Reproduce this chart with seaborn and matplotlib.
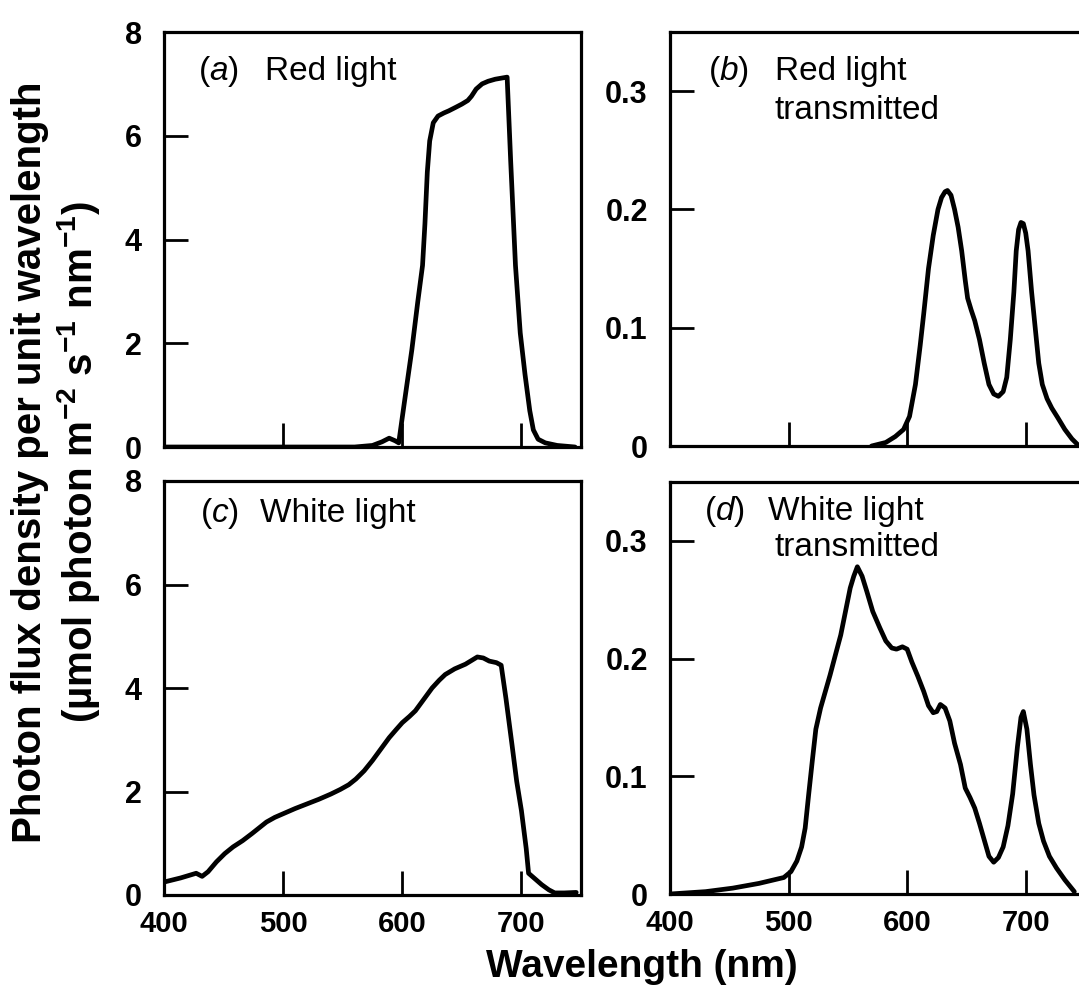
import matplotlib
matplotlib.use("Agg")
import matplotlib.pyplot as plt
import seaborn as sns
import pandas as pd

# ---------------- data ----------------
a_nm = [400, 560, 575, 583, 589, 594, 597, 602, 608, 613, 617, 619, 621, 623, 626, 630, 635, 639,
        645, 650, 655, 658, 662, 667, 672, 678, 683, 688, 691, 695, 699, 703, 707, 710, 714, 720, 730, 745]
a_val = [0, 0, 0.03, 0.1, 0.17, 0.12, 0.08, 0.9, 1.87, 2.8, 3.5, 4.3, 5.3, 5.9, 6.25, 6.38, 6.44, 6.48,
         6.55, 6.61, 6.68, 6.76, 6.9, 7.0, 7.05, 7.09, 7.11, 7.13, 5.5, 3.5, 2.2, 1.4, 0.7, 0.33, 0.15, 0.08, 0.03, 0.0]

b_nm = [570, 582, 590, 597, 602, 607, 611, 614, 618, 622, 626, 629, 632, 634, 637, 640, 643, 646, 649,
        651, 654, 657, 661, 665, 669, 673, 677, 681, 684, 687, 690, 692, 694, 696, 698, 700, 702, 705,
        708, 711, 714, 718, 722, 727, 733, 739, 745]
b_val = [0.0, 0.003, 0.008, 0.014, 0.025, 0.052, 0.085, 0.112, 0.15, 0.178, 0.2, 0.21, 0.215, 0.216,
         0.212, 0.2, 0.185, 0.165, 0.14, 0.125, 0.115, 0.106, 0.09, 0.07, 0.052, 0.044, 0.042, 0.046,
         0.058, 0.09, 0.13, 0.165, 0.183, 0.189, 0.188, 0.18, 0.165, 0.13, 0.1, 0.07, 0.052, 0.04,
         0.032, 0.024, 0.014, 0.006, 0.0]

c_nm = [400, 414, 427, 432, 437, 444, 451, 458, 466, 474, 480, 486, 493, 500, 510, 520, 530, 540,
        548, 555, 561, 568, 575, 582, 589, 595, 600, 606, 611, 618, 625, 631, 636, 644, 653, 658,
        663, 668, 673, 679, 683, 687, 692, 696, 700, 704, 706, 711, 717, 723, 728, 736, 746]
c_val = [0.25, 0.33, 0.42, 0.36, 0.45, 0.64, 0.8, 0.93, 1.05, 1.19, 1.3, 1.41, 1.5, 1.57, 1.67, 1.76,
         1.85, 1.95, 2.04, 2.13, 2.24, 2.4, 2.6, 2.82, 3.04, 3.2, 3.33, 3.45, 3.56, 3.78, 4.0, 4.15,
         4.26, 4.37, 4.46, 4.53, 4.6, 4.58, 4.52, 4.49, 4.44, 3.8, 2.92, 2.2, 1.63, 0.9, 0.42, 0.32,
         0.2, 0.1, 0.04, 0.04, 0.05]

d_nm = [400, 430, 453, 475, 496, 502, 507, 511, 514, 517, 520, 523, 527, 531, 535, 540, 544, 548, 552,
        555, 558, 562, 566, 571, 577, 582, 587, 591, 596, 600, 604, 609, 614, 618, 622, 625, 628, 632,
        636, 640, 645, 649, 653, 657, 661, 665, 669, 673, 677, 681, 685, 689, 693, 696, 698, 701, 704,
        707, 711, 715, 720, 726, 733, 741]
d_val = [0.0, 0.002, 0.005, 0.009, 0.014, 0.019, 0.028, 0.04, 0.056, 0.085, 0.113, 0.14, 0.158, 0.172,
         0.186, 0.205, 0.22, 0.24, 0.26, 0.27, 0.278, 0.27, 0.257, 0.24, 0.226, 0.215, 0.209, 0.208,
         0.21, 0.208, 0.197, 0.185, 0.172, 0.16, 0.154, 0.155, 0.161, 0.158, 0.147, 0.128, 0.11, 0.09,
         0.082, 0.073, 0.06, 0.046, 0.032, 0.027, 0.031, 0.04, 0.058, 0.085, 0.125, 0.15, 0.155, 0.14,
         0.11, 0.084, 0.06, 0.045, 0.032, 0.022, 0.012, 0.002]

xticks = [400, 500, 600, 700]
yticks_left = [0, 2, 4, 6, 8]
yticks_right = [0, 0.1, 0.2, 0.3]
ytick_right_labels = ["0", "0.1", "0.2", "0.3"]

panel_letters = ["a", "b", "c", "d"]
panel_line1 = ["Red light", "Red light", "White light", "White light"]
panel_line2 = ["", "transmitted", "", "transmitted"]

xlabel = "Wavelength (nm)"
ylabel1 = "Photon flux density per unit wavelength"
ylabel2 = r"(µmol photon m$^{-2}$ s$^{-1}$ nm$^{-1}$)"

# ---------------- style ----------------
sns.set_theme(style="ticks")
plt.rcParams["font.family"] = ["Liberation Sans", "DejaVu Sans"]
plt.rcParams["text.color"] = "black"
plt.rcParams["xtick.color"] = "black"
plt.rcParams["ytick.color"] = "black"
plt.rcParams["xtick.labelcolor"] = "black"
plt.rcParams["ytick.labelcolor"] = "black"
plt.rcParams["mathtext.fontset"] = "custom"
plt.rcParams["mathtext.rm"] = "Liberation Sans:bold"
plt.rcParams["mathtext.bf"] = "Liberation Sans:bold"
plt.rcParams["mathtext.it"] = "Liberation Sans:italic"
plt.rcParams["mathtext.default"] = "bf"

W, H = 1079, 992
fig = plt.figure(figsize=(W / 100, H / 100), dpi=100)

def fx(px):
    return px / W

def fy(py):
    return 1 - py / H

# axes rectangles in pixel coords: left, top, right, bottom
rects = [(164, 32, 581, 447), (670, 32, 1085, 446), (164, 481, 581, 895), (670, 482, 1085, 894)]
ylims = [(0, 8), (0, 0.35), (0, 8), (0, 0.35)]
datasets = [(a_nm, a_val), (b_nm, b_val), (c_nm, c_val), (d_nm, d_val)]

axes = []
for i, (l, t, r, b) in enumerate(rects):
    ax = fig.add_axes([fx(l), fy(b), fx(r) - fx(l), fy(t) - fy(b)])
    nm, val = datasets[i]
    df = pd.DataFrame({"nm": nm, "val": val})
    sns.lineplot(data=df, x="nm", y="val", ax=ax, color="black", linewidth=3.4,
                 estimator=None, sort=False, solid_joinstyle="round", solid_capstyle="round")
    ax.set_xlim(400, 750)
    ax.set_ylim(*ylims[i])
    ax.set_xlabel("")
    ax.set_ylabel("")
    for s in ax.spines.values():
        s.set_linewidth(2.3)
        s.set_color("black")
    ax.set_xticks(xticks)
    ax.tick_params(axis="both", direction="in", length=17, width=2.0, color="black")
    ax.tick_params(axis="y", pad=16)
    ax.tick_params(axis="x", pad=11)
    if i in (0, 1):
        ax.set_xticklabels([])
    else:
        ax.set_xticklabels([str(v) for v in xticks], fontsize=21, fontweight="bold", color="black")
    if i in (0, 2):
        ax.set_yticks(yticks_left)
        ax.set_yticklabels([str(v) for v in yticks_left], fontsize=22, fontweight="heavy", color="black")
    else:
        ax.set_yticks(yticks_right)
        ax.set_yticklabels(ytick_right_labels, fontsize=22, fontweight="heavy", color="black")
    ax.set_facecolor("white")
    axes.append(ax)

# panel labels
label_pos = [(198, 265, 80), (708, 775, 80), (200, 260, 522), (704, 768, 520)]
line2_pos = [None, (775, 119), None, (775, 556)]
for i in range(4):
    xl, xt, yb = label_pos[i]
    fig.text(fx(xl), fy(yb), "($\\mathit{" + panel_letters[i] + "}$)", fontsize=24,
             fontweight="normal", color="black", va="baseline", ha="left")
    fig.text(fx(xt), fy(yb), panel_line1[i], fontsize=24, color="black",
             va="baseline", ha="left")
    if line2_pos[i] is not None:
        x2, y2 = line2_pos[i]
        fig.text(fx(x2), fy(y2), panel_line2[i], fontsize=24, color="black",
                 va="baseline", ha="left")

# axis labels
fig.text(fx(642), fy(967), xlabel, fontsize=28, fontweight="bold",
         ha="center", va="center", color="black")
fig.text(fx(30), fy(462), ylabel1, fontsize=29, fontweight="bold",
         rotation=90, ha="center", va="center", color="black")
fig.text(fx(79), fy(462), ylabel2, fontsize=29, fontweight="bold",
         rotation=90, ha="center", va="center", color="black")

fig.savefig("out.png", dpi=100, facecolor="white")
